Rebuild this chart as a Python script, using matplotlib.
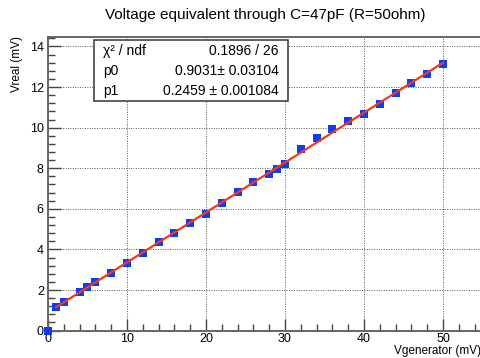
import matplotlib.pyplot as plt
import numpy as np
from matplotlib.ticker import MultipleLocator

plt.rcParams['font.family'] = ['Liberation Sans', 'DejaVu Sans']

vgen = [0, 1, 2, 4, 5, 6, 8, 10, 12, 14, 16, 18, 20, 22, 24, 26, 28, 29, 30,
        32, 34, 36, 38, 40, 42, 44, 46, 48, 50]
vreal = [0.0, 1.16, 1.41, 1.89, 2.15, 2.39, 2.85, 3.31, 3.84, 4.38, 4.82, 5.28,
         5.76, 6.29, 6.83, 7.32, 7.71, 7.98, 8.2, 8.96, 9.5, 9.92, 10.33, 10.67,
         11.16, 11.72, 12.18, 12.64, 13.13]

p0 = 0.9031
p1 = 0.2459
fit_range = [1, 50]
stats_labels = ['\u03c7\u00b2 / ndf', 'p0', 'p1']
stats_values = ['0.1896 / 26', '0.9031\u00b1 0.03104', '0.2459 \u00b1 0.001084']

fig = plt.figure(figsize=(4.81, 3.58), dpi=100)
ax = fig.add_axes([48 / 481, 27.4 / 358, 434.5 / 481, 293.3 / 358])

ax.plot(vgen, vreal, 's', color='#0b3df5', markersize=5.6, markeredgewidth=0,
        zorder=3, clip_on=False)
xf = np.linspace(fit_range[0], fit_range[1], 100)
ax.plot(xf, p0 + p1 * xf, color='#f03a1e', linewidth=1.6, zorder=4)

ax.set_xlim(0, 55)
ax.set_ylim(0, 14.45)
ax.xaxis.set_major_locator(MultipleLocator(10))
ax.xaxis.set_minor_locator(MultipleLocator(2))
ax.yaxis.set_major_locator(MultipleLocator(2))
ax.yaxis.set_minor_locator(MultipleLocator(0.4))
ax.tick_params(which='both', direction='in', top=False, right=False,
               color='#444444', width=1.0, labelsize=9)
ax.tick_params(axis='x', pad=2)
ax.tick_params(axis='y', pad=3)
ax.tick_params(which='major', length=9)
ax.tick_params(which='minor', length=5)
ax.grid(True, which='major', linestyle=(0, (1, 1.5)), color='#555555',
        linewidth=0.7)
ax.set_axisbelow(True)
for s in ax.spines.values():
    s.set_color('#666666')
    s.set_linewidth(1.4)

fig.text(481 / 481, 1 / 358, 'Vgenerator (mV)', ha='right', va='bottom',
         fontsize=8.5)
fig.text(11 / 481, 322 / 358, 'Vreal (mV)', ha='left', va='top',
         rotation=90, fontsize=8.5)
fig.text(265 / 481, 343 / 358, 'Voltage equivalent through C=47pF (R=50ohm)',
         ha='center', va='center', fontsize=11)

# stats box
box = plt.Rectangle((94 / 481, 257 / 358), 194 / 481, 61 / 358,
                    transform=fig.transFigure, facecolor='white',
                    edgecolor='#444444', linewidth=1.2, zorder=5)
fig.add_artist(box)
rows_y = [307, 287, 267]
for lab, val, y in zip(stats_labels, stats_values, rows_y):
    fig.text(103 / 481, y / 358, lab, ha='left', va='center', fontsize=10,
             zorder=6)
    fig.text(279 / 481, y / 358, val, ha='right', va='center', fontsize=10,
             zorder=6)

plt.savefig('out.png', dpi=100)
